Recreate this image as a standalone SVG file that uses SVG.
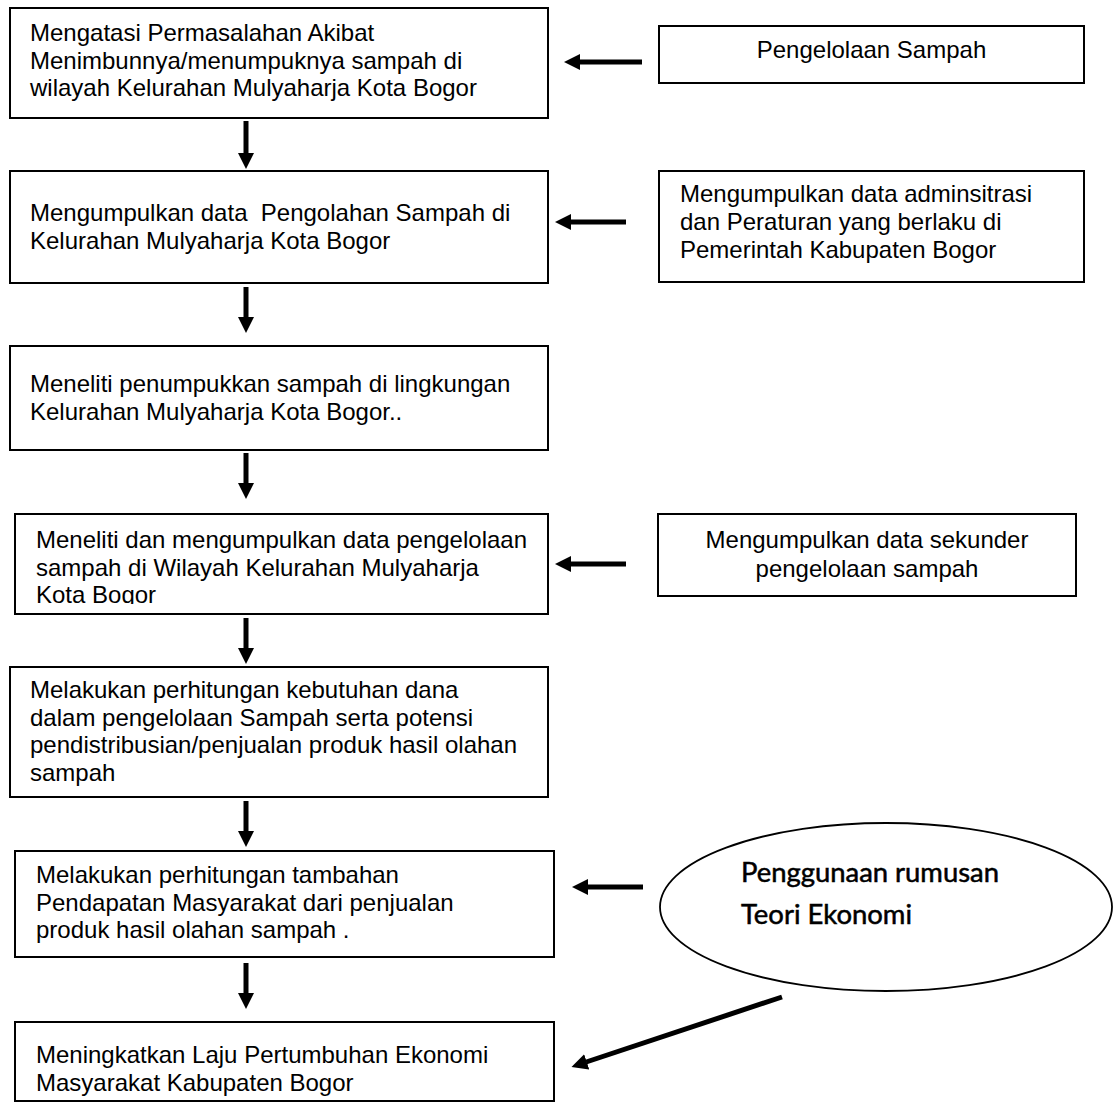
<svg xmlns="http://www.w3.org/2000/svg" width="1114" height="1113" viewBox="0 0 1114 1113">
<style>
  .box { fill: #ffffff; stroke: #000000; stroke-width: 2; }
  .ell { fill: #ffffff; stroke: #000000; stroke-width: 1.8; }
  .t { font-family: "Liberation Sans", Arial, sans-serif; font-size: 24px; fill: #000000; }
  .tc { font-family: "Liberation Sans", Arial, sans-serif; font-size: 24px; fill: #000000; text-anchor: middle; }
  .te { font-family: Lato, "Open Sans", sans-serif; font-size: 26px; fill: #000000; stroke: #000000; stroke-width: 0.5; }
  .arr { stroke: #000000; stroke-width: 5; fill: none; marker-end: url(#head); }
</style>
<defs>
  <marker id="head" markerUnits="userSpaceOnUse" markerWidth="18" markerHeight="18" refX="0.5" refY="8" orient="auto">
    <path d="M0,0 L16,8 L0,16 z" fill="#000000"/>
  </marker>
  <clipPath id="clip4"><rect x="15" y="514" width="533" height="90"/></clipPath>
</defs>
<rect width="1114" height="1113" fill="#ffffff"/>

<g id="n1">
  <rect class="box" x="10" y="8" width="538" height="110"/>
  <text class="t" x="30" y="41">Mengatasi Permasalahan Akibat</text>
  <text class="t" x="30" y="68.6">Menimbunnya/menumpuknya sampah di</text>
  <text class="t" x="30" y="96.2">wilayah Kelurahan Mulyaharja Kota Bogor</text>
</g>
<g id="r1">
  <rect class="box" x="659" y="26" width="425" height="57"/>
  <text class="tc" x="871.5" y="58">Pengelolaan Sampah</text>
</g>
<g id="n2">
  <rect class="box" x="10" y="171" width="538" height="112"/>
  <text class="t" x="30" y="221" xml:space="preserve">Mengumpulkan data  Pengolahan Sampah di</text>
  <text class="t" x="30" y="248.6">Kelurahan Mulyaharja Kota Bogor</text>
</g>
<g id="r2">
  <rect class="box" x="659" y="171" width="425" height="111"/>
  <text class="t" x="680" y="202">Mengumpulkan data adminsitrasi</text>
  <text class="t" x="680" y="230">dan Peraturan yang berlaku di</text>
  <text class="t" x="680" y="258">Pemerintah Kabupaten Bogor</text>
</g>
<g id="n3">
  <rect class="box" x="10" y="346" width="538" height="104"/>
  <text class="t" x="30" y="392">Meneliti penumpukkan sampah di lingkungan</text>
  <text class="t" x="30" y="419.6">Kelurahan Mulyaharja Kota Bogor..</text>
</g>
<g id="n4">
  <rect class="box" x="15" y="514" width="533" height="100"/>
  <g clip-path="url(#clip4)">
    <text class="t" x="36" y="548">Meneliti dan mengumpulkan data pengelolaan</text>
    <text class="t" x="36" y="575.6">sampah di Wilayah Kelurahan Mulyaharja</text>
    <text class="t" x="36" y="603.2">Kota Bogor</text>
  </g>
</g>
<g id="r3">
  <rect class="box" x="658" y="514" width="418" height="82"/>
  <text class="tc" x="867" y="548">Mengumpulkan data sekunder</text>
  <text class="tc" x="867" y="577">pengelolaan sampah</text>
</g>
<g id="n5">
  <rect class="box" x="10" y="667" width="538" height="130"/>
  <text class="t" x="30" y="698">Melakukan perhitungan kebutuhan dana</text>
  <text class="t" x="30" y="725.6">dalam pengelolaan Sampah serta potensi</text>
  <text class="t" x="30" y="753.2">pendistribusian/penjualan produk hasil olahan</text>
  <text class="t" x="30" y="780.8">sampah</text>
</g>
<g id="n6">
  <rect class="box" x="15" y="851" width="539" height="106"/>
  <text class="t" x="36" y="883">Melakukan perhitungan tambahan</text>
  <text class="t" x="36" y="910.6">Pendapatan Masyarakat dari penjualan</text>
  <text class="t" x="36" y="938.2">produk hasil olahan sampah .</text>
</g>
<g id="e1">
  <ellipse class="ell" cx="886" cy="907" rx="226" ry="84"/>
  <text class="te" x="741" y="882" textLength="258" lengthAdjust="spacingAndGlyphs">Penggunaan rumusan</text>
  <text class="te" x="741" y="924" textLength="171" lengthAdjust="spacingAndGlyphs">Teori Ekonomi</text>
</g>
<g id="n7">
  <rect class="box" x="15" y="1022" width="539" height="79"/>
  <text class="t" x="36" y="1063">Meningkatkan Laju Pertumbuhan Ekonomi</text>
  <text class="t" x="36" y="1090.6">Masyarakat Kabupaten Bogor</text>
</g>

<g id="connectors">
  <line class="arr" x1="246" y1="121" x2="246" y2="153.5"/>
  <line class="arr" x1="246" y1="287" x2="246" y2="317.5"/>
  <line class="arr" x1="246" y1="453" x2="246" y2="483.5"/>
  <line class="arr" x1="246" y1="618" x2="246" y2="648.5"/>
  <line class="arr" x1="246" y1="801" x2="246" y2="831.5"/>
  <line class="arr" x1="246" y1="963" x2="246" y2="993.5"/>
  <line class="arr" x1="642" y1="62" x2="579.5" y2="62"/>
  <line class="arr" x1="626" y1="222" x2="570.5" y2="222"/>
  <line class="arr" x1="626" y1="564" x2="570.5" y2="564"/>
  <line class="arr" x1="643" y1="887" x2="587.5" y2="887"/>
  <line class="arr" x1="782" y1="997" x2="586.2" y2="1062"/>
</g>
</svg>
